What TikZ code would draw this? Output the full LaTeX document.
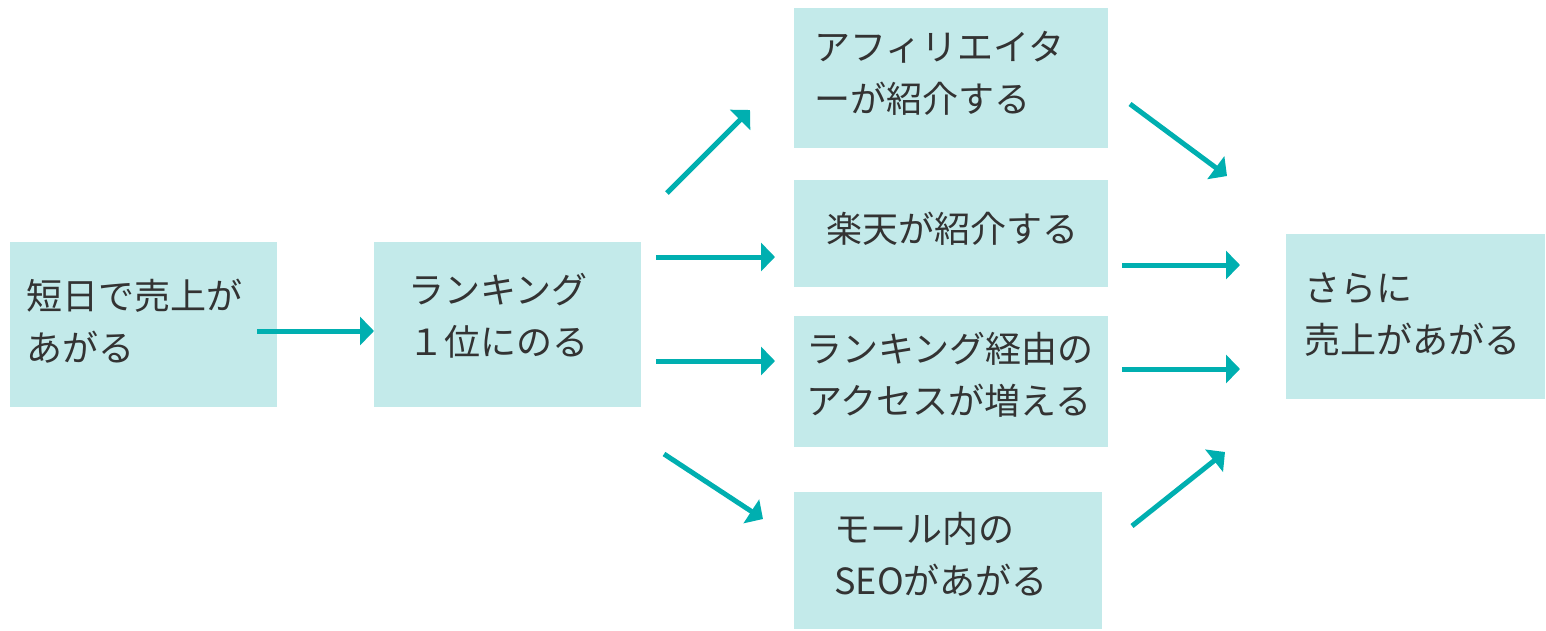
\documentclass[tikz,border=0pt]{standalone}
\usepackage{fontspec}
\newfontfamily\jp{Noto Sans CJK JP}
\usetikzlibrary{arrows.meta}
\definecolor{boxfill}{HTML}{C3EAEA}
\definecolor{arrowc}{HTML}{00AFB0}
\definecolor{txt}{HTML}{333333}
\begin{document}
\begin{tikzpicture}[x=0.02cm,y=-0.02cm,
  box/.style={fill=boxfill,draw=none,inner sep=0pt},
  lbl/.style={anchor=west,inner sep=0pt,align=left,text=txt,font=\jp\fontsize{20.5}{29.6}\selectfont},
  arr/.style={draw=arrowc,line width=0.1cm,-{Triangle[length=0.28cm,width=0.56cm]}}]
\useasboundingbox (0,0) rectangle (1546,630);
% boxes
\node[box,minimum width=5.34cm,minimum height=3.3cm] (b1) at (143.5,324.5) {};
\node[box,minimum width=5.34cm,minimum height=3.3cm] (b2) at (507.5,324.5) {};
\node[box,minimum width=6.28cm,minimum height=2.8cm] (b3) at (951,78) {};
\node[box,minimum width=6.28cm,minimum height=2.14cm] (b4) at (951,233.5) {};
\node[box,minimum width=6.28cm,minimum height=2.62cm] (b5) at (951,381.5) {};
\node[box,minimum width=6.16cm,minimum height=2.74cm] (b6) at (948,560.5) {};
\node[box,minimum width=5.18cm,minimum height=3.3cm] (b7) at (1415.5,316.5) {};
% labels
\node[lbl] (t1) at (26,321) {短日で売上が\\あがる};
\node[lbl] (t2) at (408,316) {ランキング\\１位にのる};
\node[lbl] (t3) at (814,73) {アフィリエイタ\\ーが紹介する};
\node[lbl] (t4) at (826,229) {楽天が紹介する};
\node[lbl] (t5) at (806,375) {ランキング経由の\\アクセスが増える};
\node[lbl] (t6) at (834,554) {モール内の\\SEOがあがる};
\node[lbl] (t7) at (1304,315) {さらに\\売上があがる};
% arrow endpoints
\coordinate (a1s) at (257,331); \coordinate (a1e) at (374,331);
\coordinate (a2s) at (667,193); \coordinate (a2e) at (750,110);
\coordinate (a3s) at (656,257); \coordinate (a3e) at (775,257);
\coordinate (a4s) at (656,361); \coordinate (a4e) at (775,361);
\coordinate (a5s) at (664,454); \coordinate (a5e) at (763,519);
\coordinate (a6s) at (1130,104); \coordinate (a6e) at (1227,176);
\coordinate (a7s) at (1122,265); \coordinate (a7e) at (1240,265);
\coordinate (a8s) at (1122,369); \coordinate (a8e) at (1240,369);
\coordinate (a9s) at (1132,526); \coordinate (a9e) at (1225,452);
\foreach \i in {1,...,9} {\draw[arr] (a\i s) -- (a\i e);}
\end{tikzpicture}
\end{document}
